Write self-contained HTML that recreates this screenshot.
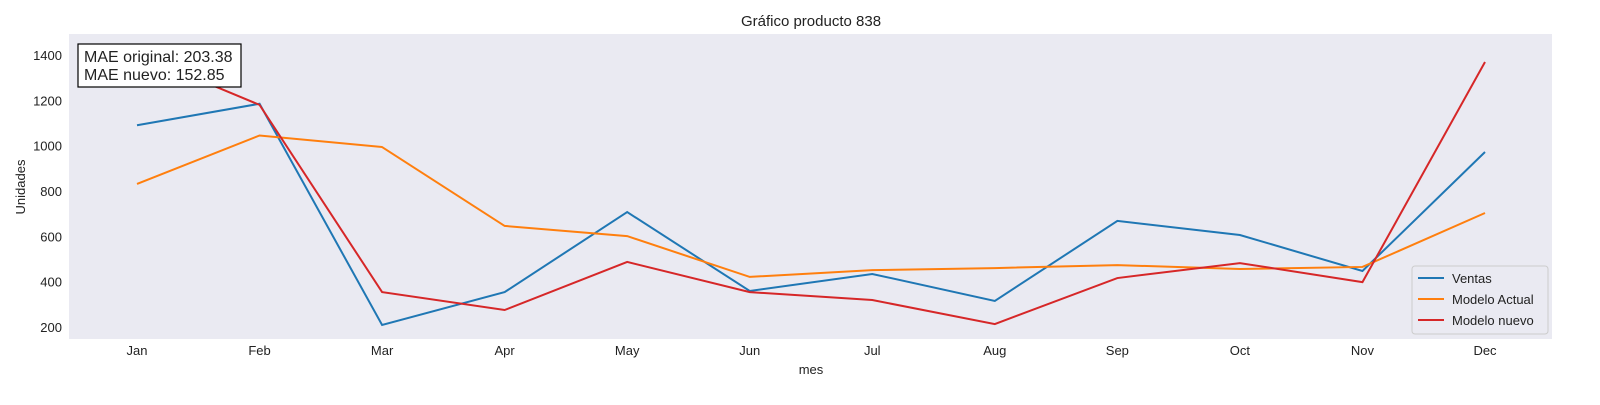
<!DOCTYPE html>
<html><head><meta charset="utf-8"><style>
body{margin:0;background:#fff;font-family:"Liberation Sans",sans-serif;}
svg text{font-family:"Liberation Sans",sans-serif;fill:#222;}
</style></head><body>
<svg width="1600" height="400">
<text x="811" y="26" font-size="15" text-anchor="middle">Gráfico producto 838</text>
<rect x="69" y="34" width="1483" height="305" fill="#eaeaf2"/>
<g id="yticks"></g><g id="xticks"></g><g id="lines"></g>
<text x="811" y="374" font-size="13" text-anchor="middle">mes</text>
<text x="25" y="187" font-size="13" text-anchor="middle" transform="rotate(-90 25 187)">Unidades</text>
<g>
<rect x="78" y="44" width="163" height="43" fill="#fff" stroke="#000" stroke-width="1.2"/>
<text x="84" y="62" font-size="16">MAE original: 203.38</text>
<text x="84" y="80" font-size="16">MAE nuevo: 152.85</text>
</g>
<g>
<rect x="1412" y="266" width="136" height="68" fill="#eaeaf2" stroke="#ccc" rx="3"/>
<line x1="1418" y1="278" x2="1444" y2="278" stroke="#1f77b4" stroke-width="2"/><text x="1452" y="283" font-size="13">Ventas</text>
<line x1="1418" y1="299" x2="1444" y2="299" stroke="#ff7f0e" stroke-width="2"/><text x="1452" y="304" font-size="13">Modelo Actual</text>
<line x1="1418" y1="320" x2="1444" y2="320" stroke="#d62728" stroke-width="2"/><text x="1452" y="325" font-size="13">Modelo nuevo</text>
</g>
</svg>
<script>
const months=["Jan","Feb","Mar","Apr","May","Jun","Jul","Aug","Sep","Oct","Nov","Dec"];
const ventas=[1090,1185,209,354,707,359,434,315,668,606,447,972];
const modeloActual=[831,1045,994,646,601,421,451,460,473,456,465,703];
const modeloNuevo=[1405,1180,354,275,487,354,319,213,416,482,398,1369];
const yTicks=[200,400,600,800,1000,1200,1400];
const NS="http://www.w3.org/2000/svg";
const xs=i=>137+i*(1485-137)/11;
const ys=v=>327-(v-200)/200*45.33;
const yt=document.getElementById('yticks');
yTicks.forEach(t=>{const e=document.createElementNS(NS,'text');
e.setAttribute('x',62);e.setAttribute('y',ys(t)+5);e.setAttribute('font-size','13');e.setAttribute('text-anchor','end');


e.textContent=t;yt.appendChild(e);});
const xt=document.getElementById('xticks');
months.forEach((m,i)=>{const e=document.createElementNS(NS,'text');
e.setAttribute('x',xs(i));e.setAttribute('y',355);e.setAttribute('font-size','13');e.setAttribute('text-anchor','middle');


e.textContent=m;xt.appendChild(e);});
const lg=document.getElementById('lines');
[[ventas,'#1f77b4','line-ventas'],[modeloActual,'#ff7f0e','line-modelo-actual'],[modeloNuevo,'#d62728','line-modelo-nuevo']].forEach(([d,c,n])=>{
const p=document.createElementNS(NS,'polyline');
p.setAttribute('points',d.map((v,i)=>xs(i)+','+ys(v)).join(' '));
p.setAttribute('fill','none');p.setAttribute('stroke',c);p.setAttribute('stroke-width','2');


lg.appendChild(p);});
</script>
</body></html>
